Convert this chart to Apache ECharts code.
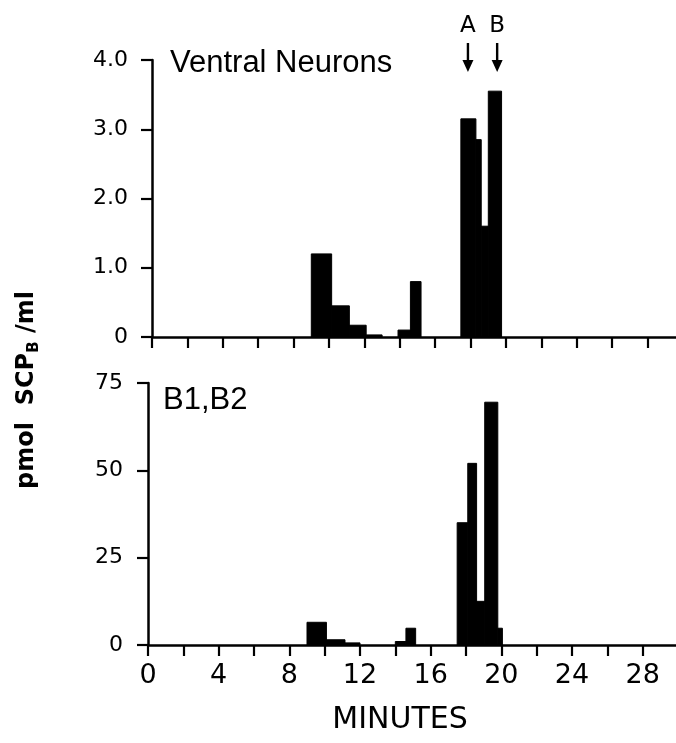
<!DOCTYPE html>
<html>
<head>
<meta charset="utf-8">
<script src="https://cdn.jsdelivr.net/npm/echarts@6/dist/echarts.min.js"></script>
<style>
  html, body { margin: 0; padding: 0; background: #fff; }
  #chart { width: 676px; height: 743px; }
</style>
</head>
<body>
<div id="chart"></div>
<script>
// Fraction collection windows (minutes) and SCPB content, ventral neurons
const ventralStart = [9.0, 10.15, 11.15, 12.1, 13.9, 14.6, 17.45, 18.3, 18.6, 19.0];
const ventralEnd   = [10.15, 11.15, 12.1, 13.0, 14.6, 15.2, 18.3, 18.6, 19.0, 19.75];
const ventralValue = [1.2, 0.45, 0.17, 0.03, 0.1, 0.8, 3.15, 2.85, 1.6, 3.55];

// Fraction windows and SCPB content, B1,B2 neurons
const b1b2Start = [9.0, 10.1, 11.15, 14.0, 14.6, 17.5, 18.1, 18.6, 19.06, 19.8];
const b1b2End   = [10.1, 11.15, 12.0, 14.6, 15.15, 18.1, 18.6, 19.06, 19.8, 20.06];
const b1b2Value = [6.5, 1.5, 0.6, 1.0, 4.8, 35, 52, 12.5, 69.5, 4.8];

// Peak markers above the upper panel
const peakTimes  = [17.85, 19.5];
const peakLabels = ['A', 'B'];

// Axis ticks
const minuteTicks  = [0, 4, 8, 12, 16, 20, 24, 28];
const ventralTicks = [0, 1, 2, 3, 4];
const b1b2Ticks    = [0, 25, 50, 75];

const numFont = 'DejaVu Sans';
const axisLine = { show: true, lineStyle: { color: '#000', width: 2.5 } };
const axisTick = { show: true, inside: false, length: 11, lineStyle: { color: '#000', width: 2.2 } };

function barItem(params, api) {
  const p0 = api.coord([api.value(0), 0]);
  const p1 = api.coord([api.value(1), api.value(2)]);
  return {
    type: 'rect',
    shape: { x: p0[0], y: p1[1], width: p1[0] - p0[0], height: p0[1] - p1[1] },
    style: { fill: '#000', stroke: '#000', lineWidth: 1 }
  };
}

function peakItem(params, api) {
  const p = api.coord([api.value(0), ventralTicks[ventralTicks.length - 1]]);
  const x = p[0], y = p[1];
  return {
    type: 'group',
    children: [
      { type: 'text', style: { text: peakLabels[params.dataIndex], x: x, y: y - 34,
          align: 'center', verticalAlign: 'middle', fontFamily: numFont, fontSize: 23, fill: '#000' } },
      { type: 'line', shape: { x1: x, y1: y - 17, x2: x, y2: y + 3 },
        style: { stroke: '#000', lineWidth: 2.4 } },
      { type: 'polygon', shape: { points: [[x - 5.5, y], [x + 5.5, y], [x, y + 12]] },
        style: { fill: '#000' } }
    ]
  };
}

const chart = echarts.init(document.getElementById('chart'), null, { renderer: 'canvas' });

chart.setOption({
  backgroundColor: '#fff',
  animation: false,
  grid: [
    { left: 152, width: 531, top: 60, height: 277, outerBoundsMode: 'none', containLabel: false },
    { left: 148, width: 530, top: 383, height: 262, outerBoundsMode: 'none', containLabel: false }
  ],
  xAxis: [
    { type: 'value', gridIndex: 0, min: 0, max: 30, interval: 2,
      axisLine: axisLine, axisTick: axisTick, splitLine: { show: false },
      axisLabel: { show: false } },
    { type: 'value', gridIndex: 1, min: 0, max: 30, interval: 2,
      axisLine: axisLine, axisTick: axisTick, splitLine: { show: false },
      axisLabel: { margin: 17, color: '#000', fontFamily: numFont, fontSize: 27,
        formatter: v => (minuteTicks.indexOf(v) >= 0 ? String(v) : '') } }
  ],
  yAxis: [
    { type: 'value', gridIndex: 0, min: ventralTicks[0], max: ventralTicks[ventralTicks.length - 1], interval: 1,
      axisLine: axisLine, axisTick: axisTick, splitLine: { show: false },
      axisLabel: { margin: 24, color: '#000', fontFamily: numFont, fontSize: 22,
        formatter: v => (v === 0 ? '0' : v.toFixed(1)) } },
    { type: 'value', gridIndex: 1, min: b1b2Ticks[0], max: b1b2Ticks[b1b2Ticks.length - 1], interval: 25,
      axisLine: axisLine, axisTick: axisTick, splitLine: { show: false },
      axisLabel: { margin: 25, color: '#000', fontFamily: numFont, fontSize: 22 } }
  ],
  series: [
    { type: 'custom', name: 'Ventral Neurons', xAxisIndex: 0, yAxisIndex: 0,
      renderItem: barItem, encode: { x: [0, 1], y: 2 },
      data: ventralStart.map((s, i) => [s, ventralEnd[i], ventralValue[i]]) },
    { type: 'custom', name: 'B1,B2', xAxisIndex: 1, yAxisIndex: 1,
      renderItem: barItem, encode: { x: [0, 1], y: 2 },
      data: b1b2Start.map((s, i) => [s, b1b2End[i], b1b2Value[i]]) },
    { type: 'custom', name: 'peaks', xAxisIndex: 0, yAxisIndex: 0, clip: false,
      renderItem: peakItem, encode: { x: 0 },
      data: peakTimes.map(t => [t]) }
  ],
  graphic: [
    { type: 'text', x: 170, y: 63,
      style: { text: 'Ventral Neurons', fontFamily: 'Liberation Sans', fontSize: 31, fill: '#000', verticalAlign: 'middle' } },
    { type: 'text', x: 163, y: 400,
      style: { text: 'B1,B2', fontFamily: 'Liberation Sans', fontSize: 31, fill: '#000', verticalAlign: 'middle' } },
    { type: 'text', x: 400, y: 720,
      style: { text: 'MINUTES', fontFamily: 'DejaVu Sans', fontSize: 30, fill: '#000', align: 'center', verticalAlign: 'middle' } },
    { type: 'text', x: 27, y: 390, rotation: Math.PI / 2,
      style: {
        text: '{a|pmol  SCP}{s|B}{a| /ml}',
        align: 'center', verticalAlign: 'middle',
        rich: {
          a: { fontFamily: 'DejaVu Sans', fontWeight: 'bold', fontSize: 24, lineHeight: 30, verticalAlign: 'middle', fill: '#000', color: '#000' },
          s: { fontFamily: 'DejaVu Sans', fontWeight: 'bold', fontSize: 15, lineHeight: 12, verticalAlign: 'bottom', fill: '#000', color: '#000' }
        }
      } }
  ]
});
</script>
</body>
</html>
